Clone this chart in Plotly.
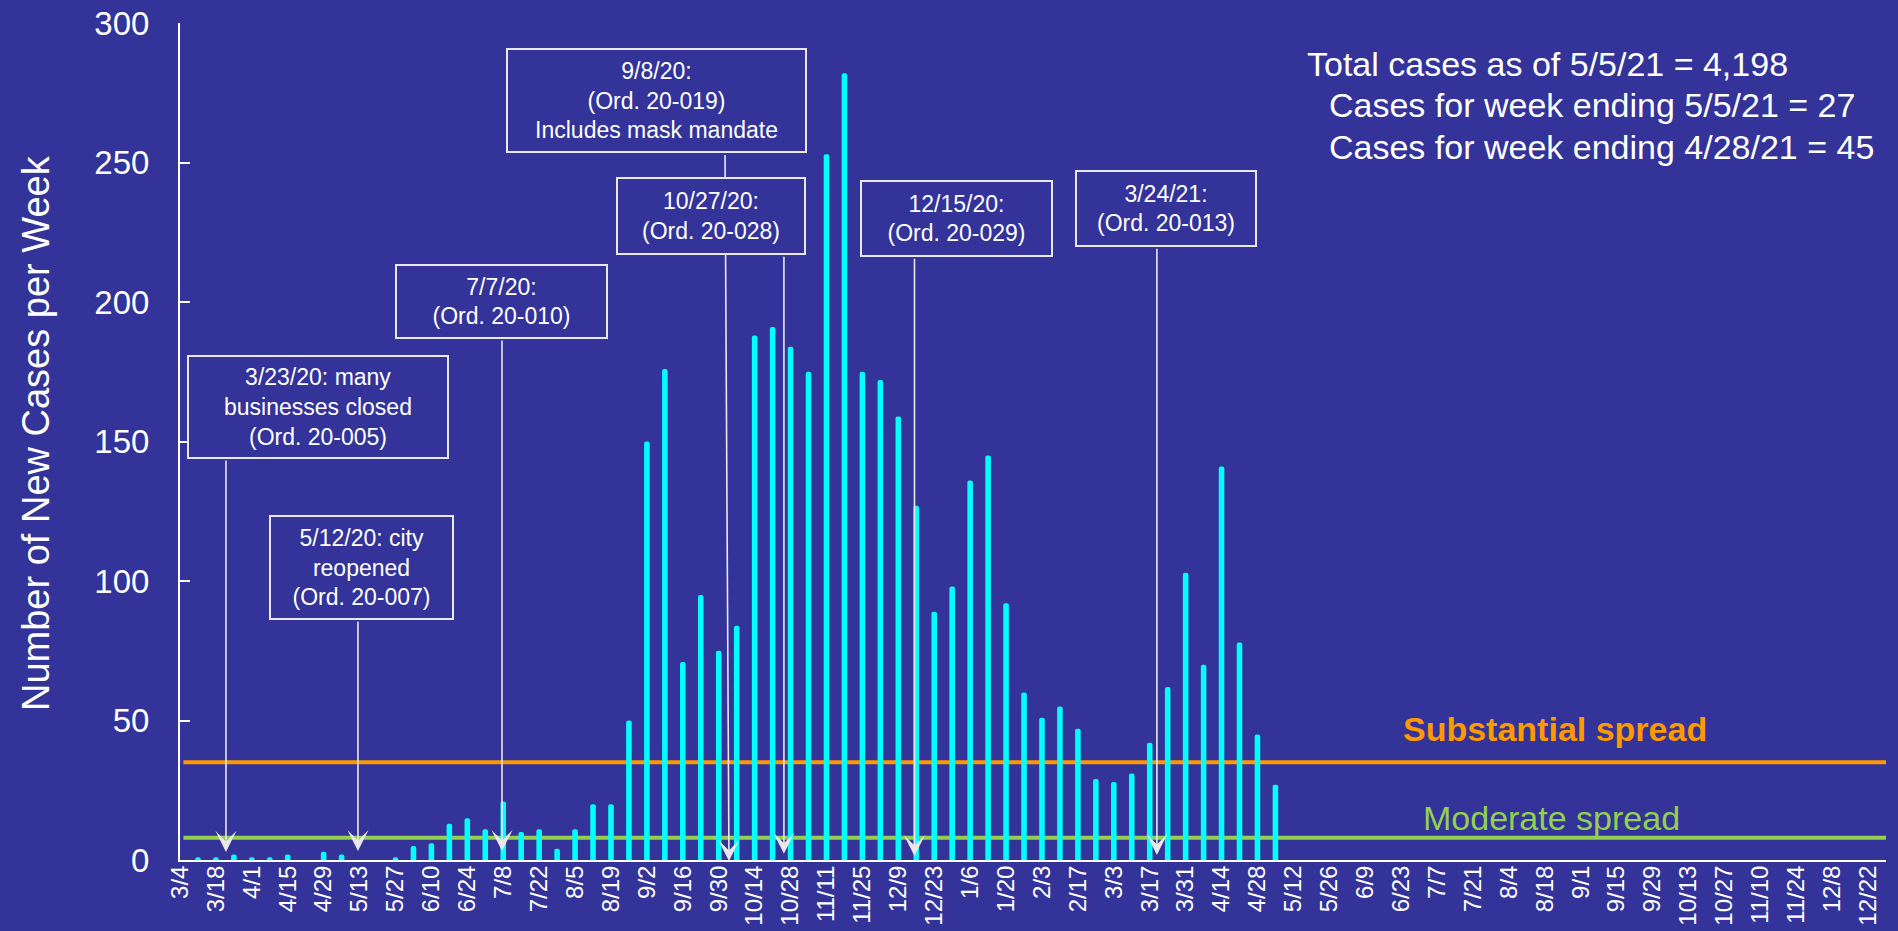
import plotly.graph_objects as go

BG = "#333399"
CYAN = "#00FFFF"
ORANGE = "#FF9900"
GREEN = "#92D050"
WHITE = "#FFFFFF"
ARROW = "#E8E8E8"
FONT = "Arial, Liberation Sans, sans-serif"

# new cases per week, weeks ending 3/4/20 ... 5/5/21
CASES = [
    0, 1, 1, 2, 1, 1, 2, 0, 3, 2,
    0, 0, 1, 5, 6, 13, 15, 11, 21, 10,
    11, 4, 11, 20, 20, 50, 150, 176, 71, 95,
    75, 84, 188, 191, 184, 175, 253, 282, 175, 172,
    159, 127, 89, 98, 136, 145, 92, 60, 51, 55,
    47, 29, 28, 31, 42, 62, 103, 70, 141, 78,
    45, 27,
]

# every other week is labelled (3/4/20 ... 12/22/21)
TICK_LABELS = [
    "3/4", "3/18", "4/1", "4/15", "4/29", "5/13", "5/27", "6/10", "6/24", "7/8",
    "7/22", "8/5", "8/19", "9/2", "9/16", "9/30", "10/14", "10/28", "11/11", "11/25",
    "12/9", "12/23", "1/6", "1/20", "2/3", "2/17", "3/3", "3/17", "3/31", "4/14",
    "4/28", "5/12", "5/26", "6/9", "6/23", "7/7", "7/21", "8/4", "8/18", "9/1",
    "9/15", "9/29", "10/13", "10/27", "11/10", "11/24", "12/8", "12/22",
]
N_WEEKS = 96

SUBSTANTIAL = 35
MODERATE = 8

SUMMARY = [
    "Total cases as of 5/5/21 = 4,198",
    "Cases for week ending 5/5/21 = 27",
    "Cases for week ending 4/28/21 = 45",
]

NOTES = [
    "3/23/20: many<br>businesses closed<br>(Ord. 20-005)",
    "5/12/20: city<br>reopened<br>(Ord. 20-007)",
    "7/7/20:<br>(Ord. 20-010)",
    "9/8/20:<br>(Ord. 20-019)<br>Includes mask mandate",
    "10/27/20:<br>(Ord. 20-028)",
    "12/15/20:<br>(Ord. 20-029)",
    "3/24/21:<br>(Ord. 20-013)",
]

# plot area in pixels
W, H = 1898, 931
L, R, T, B = 180, 12, 23, 71
PW = W - L - R
PH = H - T - B


def px_x(px):
    return (px - L) / PW


def px_y(py):
    return (H - B - py) / PH


# box geometry in pixels: left, top, right, bottom
BOXES = [
    (187, 355, 449, 459),
    (269, 515, 454, 620),
    (395, 264, 608, 339),
    (506, 48, 807, 153),
    (616, 177, 806, 255),
    (860, 180, 1053, 257),
    (1075, 170, 1257, 247),
]
# arrows: (tail x, tail y, tip x, tip y) in week index / case units
ARROWS = [
    (2.56, 143.7, 2.56, 2.9),
    (9.91, 86.0, 9.91, 3.2),
    (17.93, 186.7, 17.93, 3.2),
    (30.35, 253.2, 30.57, -0.4),
    (33.63, 216.8, 33.63, 2.2),
    (40.90, 216.0, 40.90, 1.4),
    (54.40, 219.6, 54.40, 1.8),
]

fig = go.Figure()
fig.add_trace(go.Bar(
    x=list(range(len(CASES))), y=CASES,
    width=0.31, marker=dict(color=CYAN, line=dict(width=0), cornerradius="50%"),
    hoverinfo="skip",
))

for val, col in [(SUBSTANTIAL, ORANGE), (MODERATE, GREEN)]:
    fig.add_shape(type="line", xref="paper", yref="y", x0=0.002, x1=1, y0=val, y1=val,
                  line=dict(color=col, width=4), layer="below")

fig.add_annotation(x=px_x(1555), y=px_y(729), xref="paper", yref="paper",
                   text="<b>Substantial spread</b>", showarrow=False,
                   xanchor="center", yanchor="middle",
                   font=dict(family=FONT, size=34, color=ORANGE))
fig.add_annotation(x=px_x(1551), y=px_y(818), xref="paper", yref="paper",
                   text="Moderate spread", showarrow=False,
                   xanchor="center", yanchor="middle",
                   font=dict(family=FONT, size=34, color=GREEN))

for txt, lx, cy in zip(SUMMARY, [1305, 1327, 1327], [64, 105, 147]):
    fig.add_annotation(x=px_x(lx), y=px_y(cy), xref="paper", yref="paper",
                       text=txt, showarrow=False, xanchor="left", yanchor="middle",
                       font=dict(family=FONT, size=34, color=WHITE))

fig.add_annotation(x=px_x(36), y=px_y(433), xref="paper", yref="paper",
                   text="Number of New Cases per Week", textangle=-90, showarrow=False,
                   xanchor="center", yanchor="middle",
                   font=dict(family=FONT, size=38, color=WHITE))

# arrows first, boxes on top so they hide the lines passing behind
for tx, ty, hx, hy in ARROWS:
    fig.add_annotation(x=hx, y=hy, ax=tx, ay=ty, xref="x", yref="y", axref="x", ayref="y",
                       text="", showarrow=True, arrowhead=3, arrowsize=2.2,
                       arrowwidth=1.6, arrowcolor=ARROW)

for txt, (x0, y0, x1, y1) in zip(NOTES, BOXES):
    fig.add_annotation(x=px_x((x0 + x1) / 2), y=px_y((y0 + y1) / 2),
                       xref="paper", yref="paper", text=txt, showarrow=False,
                       xanchor="center", yanchor="middle",
                       width=x1 - x0 - 6, height=y1 - y0 - 6,
                       bgcolor=BG, bordercolor=ARROW, borderwidth=2, borderpad=1,
                       font=dict(family=FONT, size=23, color=WHITE))

fig.update_xaxes(
    range=[0, N_WEEKS - 1],
    tickmode="array",
    tickvals=[2 * i for i in range(len(TICK_LABELS))],
    ticktext=TICK_LABELS,
    tickangle=-90,
    tickfont=dict(family=FONT, size=24, color=WHITE),
    ticks="", ticklen=0, ticklabelstandoff=-6,
    showgrid=False, zeroline=False,
    showline=True, linecolor=WHITE, linewidth=2,
    automargin=False,
)
fig.update_yaxes(
    range=[0, 300],
    tickvals=[0, 50, 100, 150, 200, 250, 300],
    tickfont=dict(family=FONT, size=33, color=WHITE),
    ticks="inside", ticklen=10, tickwidth=2, tickcolor=WHITE,
    ticklabelstandoff=22,
    showgrid=False, zeroline=False,
    showline=True, linecolor=WHITE, linewidth=2,
    automargin=False,
)
fig.update_layout(
    template="none",
    width=W, height=H,
    margin=dict(l=L, r=R, t=T, b=B),
    paper_bgcolor=BG, plot_bgcolor=BG,
    showlegend=False,
    font=dict(family=FONT, color=WHITE),
)

fig.write_html("out.html", config={"displayModeBar": False},
               post_script="document.body.style.margin='0';")
